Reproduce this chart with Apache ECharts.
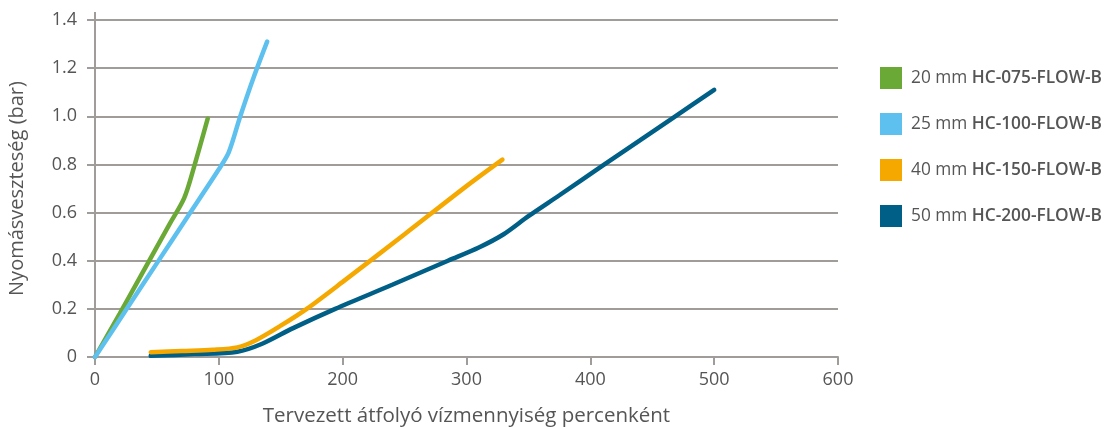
<!DOCTYPE html>
<html>
<head>
<meta charset="utf-8">
<script src="https://cdn.jsdelivr.net/npm/echarts@6/dist/echarts.min.js"></script>
<style>
  html, body { margin: 0; padding: 0; background: #fff; }
  #chart { width: 1104px; height: 427px; }
</style>
</head>
<body>
<div id="chart"></div>
<script>
// sorozatok nevei
const sizes = ['20 mm', '25 mm', '40 mm', '50 mm'];
const models = ['HC-075-FLOW-B', 'HC-100-FLOW-B', 'HC-150-FLOW-B', 'HC-200-FLOW-B'];
const colors = ['#6aa936', '#5ec0ee', '#f5a800', '#005f86'];

// [átfolyás, nyomásveszteség (bar)] - leolvasva a görbékről
const hc075 = [[0, 0], [20, 0.18], [40, 0.365], [60, 0.55], [72, 0.66], [80, 0.79], [91, 0.99]];
const hc100 = [[0, 0], [25, 0.195], [50, 0.39], [75, 0.585], [100, 0.78], [108, 0.85], [117, 0.995], [128, 1.16], [139, 1.31]];
const hc150 = [[45, 0.02], [70, 0.025], [95, 0.03], [115, 0.04], [130, 0.07], [150, 0.13], [171, 0.2], [200, 0.312], [250, 0.51], [300, 0.71], [329, 0.82]];
const hc200 = [[45, 0.005], [80, 0.012], [115, 0.022], [135, 0.055], [160, 0.12], [194, 0.2], [240, 0.3], [285, 0.4], [310, 0.455], [330, 0.51], [350, 0.585], [375, 0.672], [409, 0.792], [440, 0.9], [468, 0.998], [500, 1.11]];
const seriesData = [hc075, hc100, hc150, hc200];

const xTicks = [0, 100, 200, 300, 400, 500, 600];
const yTicks = [0, 0.2, 0.4, 0.6, 0.8, 1.0, 1.2, 1.4];

const font = '"Open Sans", "Noto Sans", sans-serif';
const grey = '#a09c99';
const txt = '#555';

const chart = echarts.init(document.getElementById('chart'));

const option = {
  animation: false,
  textStyle: { fontFamily: font },
  grid: { left: 95, right: 266, top: 20, bottom: 70, outerBoundsMode: 'none', containLabel: false },
  legend: {
    orient: 'vertical',
    left: 875,
    top: 62,
    itemWidth: 22,
    itemHeight: 22,
    itemGap: 24,
    icon: 'rect',
    data: models,
    formatter: function (name) {
      const i = models.indexOf(name);
      return '{a|' + sizes[i] + ' }{b|' + name + '}';
    },
    textStyle: {
      padding: [0, 0, 0, 4],
      rich: {
        a: { fontFamily: font, fontSize: 17.3, color: txt },
        b: { fontFamily: font, fontSize: 17.3, color: txt, fontWeight: 600 }
      }
    }
  },
  xAxis: {
    type: 'value',
    min: xTicks[0],
    max: xTicks[xTicks.length - 1],
    interval: 100,
    name: 'Tervezett átfolyó vízmennyiség percenként',
    nameLocation: 'middle',
    nameGap: 49,
    nameTextStyle: { fontSize: 20.5, color: txt, fontFamily: font },
    axisLine: { lineStyle: { color: grey, width: 2 } },
    axisTick: { show: true, length: 8, lineStyle: { color: grey, width: 2 } },
    axisLabel: { fontSize: 18, color: txt, margin: 14, fontFamily: font },
    splitLine: { show: false }
  },
  yAxis: {
    type: 'value',
    min: yTicks[0],
    max: yTicks[yTicks.length - 1],
    interval: 0.2,
    name: 'Nyomásveszteség (bar)',
    nameLocation: 'middle',
    nameGap: 68,
    nameRotate: 90,
    nameTextStyle: { fontSize: 20, color: txt, fontFamily: font },
    axisLine: {
      show: true,
      symbol: ['none', 'rect'],
      symbolSize: [2, 16],
      lineStyle: { color: grey, width: 2 }
    },
    axisTick: { show: true, length: 8, lineStyle: { color: grey, width: 2 } },
    axisLabel: {
      fontSize: 18,
      color: txt,
      margin: 18,
      fontFamily: font,
      formatter: function (v) { return v === 0 ? '0' : v.toFixed(1); }
    },
    splitLine: { show: true, lineStyle: { color: grey, width: 2 } }
  },
  series: models.map(function (m, i) {
    return {
      name: m,
      type: 'line',
      data: seriesData[i],
      smooth: 0.3,
      showSymbol: false,
      symbol: 'none',
      color: colors[i],
      lineStyle: { width: 4.5, color: colors[i], cap: 'round' },
      z: i === 2 ? 5 : i === 3 ? 4 : 2 + i
    };
  })
};

chart.setOption(option);
</script>
</body>
</html>
